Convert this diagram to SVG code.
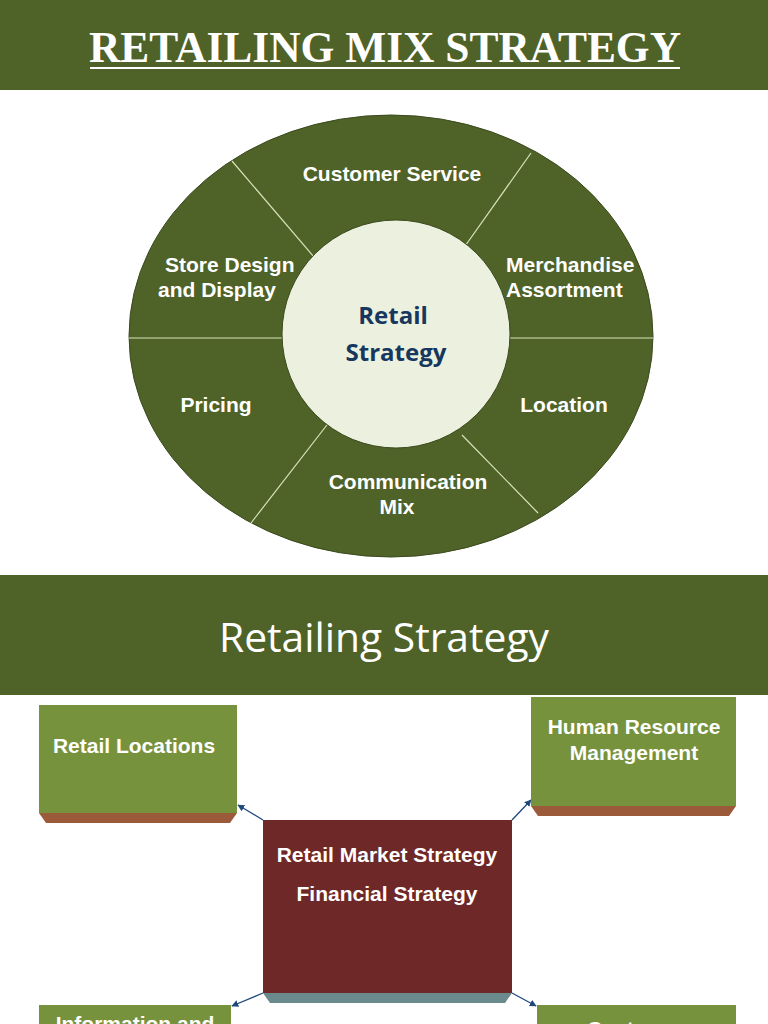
<svg xmlns="http://www.w3.org/2000/svg" width="768" height="1024" viewBox="0 0 768 1024">
<style>
.banner{fill:#4f6228}
.seg{stroke:#d8e4bc;stroke-width:1.2;fill:none}
.lbl{font-family:"Liberation Sans",Arial,sans-serif;font-weight:bold;font-size:21px;fill:#ffffff}
.ctr{font-family:"Open Sans","Liberation Sans",sans-serif;font-weight:bold;font-size:24px;fill:#17375e;text-anchor:middle}
.box{fill:#77923c}
.bev{fill:#9b5a3a}
.blbl{font-family:"Liberation Sans",Arial,sans-serif;font-weight:bold;font-size:21px;fill:#ffffff;text-anchor:middle}
.conn{stroke:#1f497d;stroke-width:1.3;fill:none;marker-end:url(#arr)}
</style>
<defs>
<marker id="arr" viewBox="0 0 10 10" refX="9" refY="5" markerWidth="7" markerHeight="7" orient="auto-start-reverse" markerUnits="userSpaceOnUse">
<path d="M0,0 L10,5 L0,10 z" fill="#1f497d"/>
</marker>
</defs>
<rect width="768" height="1024" fill="#ffffff"/>
<g id="title">
<rect class="banner" x="0" y="0" width="768" height="90"/>
<text x="385" y="62" text-anchor="middle" font-family="'Liberation Serif',serif" font-weight="bold" font-size="44" fill="#ffffff" textLength="592" lengthAdjust="spacingAndGlyphs">RETAILING  MIX STRATEGY</text>
<line x1="90" y1="68" x2="680" y2="68" stroke="#ffffff" stroke-width="2"/>
</g>
<g id="wheel">
<ellipse cx="391" cy="336" rx="262" ry="221" fill="#4f6228" stroke="#3b4a1e" stroke-width="1"/>
<line class="seg" x1="129" y1="338" x2="282" y2="338"/>
<line class="seg" x1="510" y1="338" x2="653" y2="338"/>
<line class="seg" x1="232" y1="161" x2="314" y2="257"/>
<line class="seg" x1="531" y1="153" x2="463" y2="249"/>
<line class="seg" x1="251" y1="523" x2="330" y2="421"/>
<line class="seg" x1="538" y1="513" x2="462" y2="435"/>
</g>
<g id="center-circle">
<circle cx="396" cy="334" r="114" fill="#ebf1de" stroke="#3b4a1e" stroke-width="1"/>
<text class="ctr" x="393" y="324">Retail</text>
<text class="ctr" x="396" y="361">Strategy</text>
</g>
<g id="customer-service"><text class="lbl" x="392" y="181" text-anchor="middle">Customer Service</text></g>
<g id="store-design"><text class="lbl" x="165" y="272">Store Design</text><text class="lbl" x="158" y="297">and Display</text></g>
<g id="merchandise"><text class="lbl" x="506" y="272">Merchandise</text><text class="lbl" x="506" y="297">Assortment</text></g>
<g id="pricing"><text class="lbl" x="216" y="412" text-anchor="middle">Pricing</text></g>
<g id="location"><text class="lbl" x="564" y="412" text-anchor="middle">Location</text></g>
<g id="communication"><text class="lbl" x="408" y="489" text-anchor="middle">Communication</text><text class="lbl" x="397" y="514" text-anchor="middle">Mix</text></g>
<g id="subtitle">
<rect class="banner" x="0" y="575" width="768" height="120"/>
<text x="384" y="652" text-anchor="middle" font-family="'Open Sans','Liberation Sans',sans-serif" font-size="40" fill="#ffffff" textLength="330" lengthAdjust="spacingAndGlyphs">Retailing Strategy</text>
</g>
<g id="connectors">
<line class="conn" x1="263" y1="820" x2="238" y2="805"/>
<line class="conn" x1="512" y1="820" x2="531" y2="800"/>
<line class="conn" x1="263" y1="993" x2="232" y2="1006"/>
<line class="conn" x1="512" y1="993" x2="536" y2="1006"/>
</g>
<g id="retail-locations">
<rect class="box" x="39" y="705" width="198" height="108"/>
<polygon class="bev" points="39,813 237,813 230,823 46,823"/>
<text class="blbl" x="134" y="753">Retail Locations</text>
</g>
<g id="human-resource">
<rect class="box" x="531" y="697" width="205" height="109"/>
<polygon class="bev" points="531,806 736,806 729,816 538,816"/>
<text class="blbl" x="634" y="734">Human Resource</text>
<text class="blbl" x="634" y="760">Management</text>
</g>
<g id="retail-market-strategy">
<rect x="263" y="820" width="249" height="173" fill="#6e2828"/>
<polygon points="263,993 512,993 505,1003 270,1003" fill="#6a8a8e"/>
<text class="blbl" x="387" y="862">Retail Market Strategy</text>
<text class="blbl" x="387" y="901">Financial Strategy</text>
</g>
<g id="information">
<rect class="box" x="39" y="1005" width="192" height="40"/>
<text class="blbl" x="135" y="1031">Information and</text>
</g>
<g id="customer">
<rect class="box" x="537" y="1005" width="199" height="40"/>
<text class="blbl" x="636" y="1036">Customer</text>
</g>
</svg>
